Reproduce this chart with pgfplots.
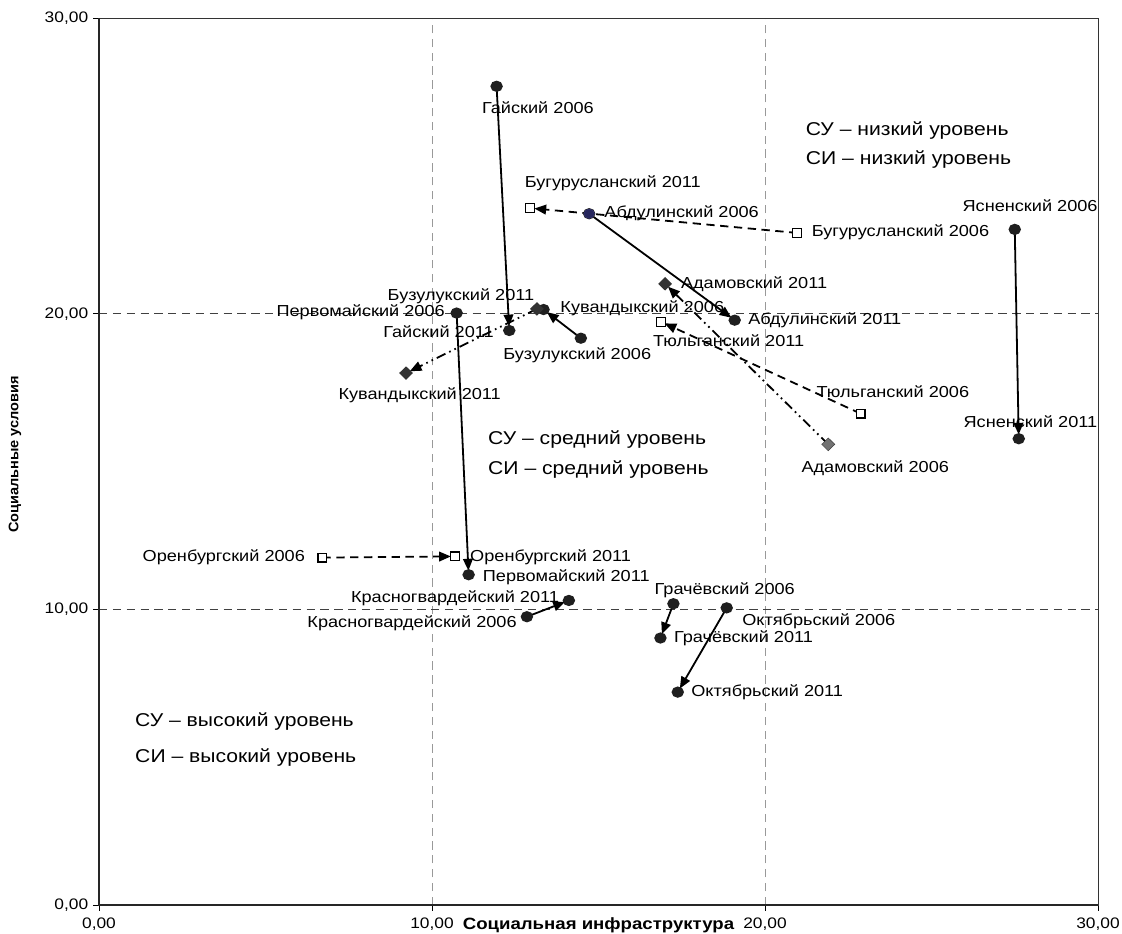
\documentclass[border=0pt]{standalone}
\usepackage{fontspec}
\setmainfont{Liberation Sans}[FakeStretch=1.14]
\newfontfamily\ylabfont{Liberation Sans}[FakeStretch=1.05]
\usepackage{pgfplots}
\pgfplotsset{compat=1.18}
\usetikzlibrary{arrows.meta}

\pgfplotsset{
  pair/.style={line width=1.3pt, black, -{Triangle[length=8.5pt,width=7pt]}, shorten >=3pt},
  circ/.style={pair, solid, mark=*, mark size=3.4pt,
    mark options={solid, xscale=1.12, fill=black!88, draw=black!88}},
  sq/.style={pair, dash pattern=on 6pt off 4pt, mark=square*, mark size=3.2pt,
    mark options={solid, fill=white, draw=black, line width=0.8pt}},
  dia/.style={pair, dash pattern=on 7pt off 3pt on 1.2pt off 3pt on 1.2pt off 3pt,
    mark=diamond*, mark size=4pt, mark options={solid, xscale=1.35, fill=black!80, draw=black!80}},
}
\tikzset{
  lbl/.style={inner sep=0pt, font=\fontsize{11.5}{13}\selectfont},
  zone/.style={inner sep=0pt, anchor=west, font=\fontsize{13.4}{16}\selectfont},
}

\begin{document}
\begin{tikzpicture}
\begin{axis}[
  name=ax,
  scale only axis,
  width=9.99in, height=8.87in,
  xmin=0, xmax=30, ymin=0, ymax=30,
  xtick={0,10,20,30}, ytick={0,10,20,30},
  xtick pos=bottom, ytick pos=left,
  tick align=outside,
  major tick length=4.3pt,
  tick style={black, line width=0.6pt},
  grid=major,
  x grid style={gray!80, dash pattern=on 6pt off 4pt, line width=0.5pt},
  y grid style={black!75, dash pattern=on 6pt off 4pt, line width=0.5pt},
  axis line style={black!80, line width=0.6pt},
  tick label style={font=\fontsize{11}{13}\selectfont},
  xticklabel style={yshift=-1.5pt},
  /pgf/number format/fixed,
  /pgf/number format/fixed zerofill,
  /pgf/number format/precision=2,
  /pgf/number format/use comma,
  /pgf/number format/assume math mode=true,
  xlabel={\bfseries Социальная инфраструктура},
  xlabel style={at={(axis description cs:0.5,0)}, anchor=north, yshift=-9pt,
    inner sep=0pt, font=\fontsize{11.8}{13}\selectfont},
  ylabel={\ylabfont\bfseries Социальные условия},
  ylabel style={at={(axis description cs:-0.084,0.508)}, anchor=center,
    font=\fontsize{10}{12}\selectfont},
]
% 2006 -> 2011
\addplot[circ] coordinates {(11.94,27.69) (12.32,19.43)}; % Гайский
\addplot[circ] coordinates {(14.72,23.38) (19.09,19.78)}; % Абдулинский
\addplot[circ] coordinates {(27.50,22.85) (27.62,15.77)}; % Ясненский
\addplot[circ] coordinates {(10.74,20.02) (11.10,11.17)}; % Первомайский
\addplot[circ] coordinates {(14.47,19.17) (13.35,20.14)}; % Бузулукский
\addplot[circ] coordinates {(12.85,9.75) (14.11,10.30)};  % Красногвардейский
\addplot[circ] coordinates {(17.25,10.19) (16.86,9.03)};  % Грачёвский
\addplot[circ] coordinates {(18.85,10.05) (17.38,7.20)};  % Октябрьский
\addplot[sq] coordinates {(20.97,22.73) (12.95,23.57)};   % Бугурусланский
\addplot[sq] coordinates {(22.87,16.62) (16.87,19.73)};   % Тюльганский
\addplot[sq] coordinates {(6.71,11.75) (10.69,11.79)};    % Оренбургский
\addplot[dia] coordinates {(21.90,15.58) (17.00,21.01)};  % Адамовский
\addplot[dia] coordinates {(13.15,20.16) (9.22,17.99)};   % Кувандыкский
\addplot[only marks, mark=diamond*, mark size=4pt, mark options={xscale=1.35},
  fill=black!55, draw=black!55] coordinates {(21.90,15.58)};
\addplot[only marks, mark=*, mark size=3.4pt, mark options={xscale=1.12},
  fill=blue!25!black!85, draw=blue!30!black!80] coordinates {(14.72,23.38)};

% point labels
\node[lbl] at (axis cs:13.18,26.98) {Гайский 2006};
\node[lbl, anchor=east] at (axis cs:11.86,19.40) {Гайский 2011};
\node[lbl] at (axis cs:15.43,24.40) {Бугурусланский 2011};
\node[lbl, anchor=west] at (axis cs:21.40,22.74) {Бугурусланский 2006};
\node[lbl, anchor=west] at (axis cs:15.17,23.38) {Абдулинский 2006};
\node[lbl, anchor=west] at (axis cs:19.49,19.79) {Абдулинский 2011};
\node[lbl, anchor=west] at (axis cs:17.47,21.01) {Адамовский 2011};
\node[lbl] at (axis cs:23.31,14.79) {Адамовский 2006};
\node[lbl, anchor=west] at (axis cs:16.63,19.09) {Тюльганский 2011};
\node[lbl] at (axis cs:23.84,17.37) {Тюльганский 2006};
\node[lbl] at (axis cs:27.96,23.64) {Ясненский 2006};
\node[lbl] at (axis cs:27.97,16.34) {Ясненский 2011};
\node[lbl, anchor=west] at (axis cs:13.85,20.19) {Кувандыкский 2006};
\node[lbl] at (axis cs:9.63,17.24) {Кувандыкский 2011};
\node[lbl] at (axis cs:10.87,20.59) {Бузулукский 2011};
\node[lbl] at (axis cs:14.36,18.58) {Бузулукский 2006};
\node[lbl, anchor=east] at (axis cs:10.39,20.05) {Первомайский 2006};
\node[lbl, anchor=west] at (axis cs:11.52,11.09) {Первомайский 2011};
\node[lbl, anchor=east] at (axis cs:6.19,11.75) {Оренбургский 2006};
\node[lbl, anchor=west] at (axis cs:11.14,11.77) {Оренбургский 2011};
\node[lbl, anchor=east] at (axis cs:13.82,10.36) {Красногвардейский 2011};
\node[lbl, anchor=east] at (axis cs:12.55,9.52) {Красногвардейский 2006};
\node[lbl] at (axis cs:18.79,10.64) {Грачёвский 2006};
\node[lbl, anchor=west] at (axis cs:17.26,9.03) {Грачёвский 2011};
\node[lbl, anchor=west] at (axis cs:19.31,9.60) {Октябрьский 2006};
\node[lbl, anchor=west] at (axis cs:17.78,7.18) {Октябрьский 2011};

% zones
\node[zone] at (axis cs:21.22,26.18) {СУ – низкий уровень};
\node[zone] at (axis cs:21.22,25.20) {СИ – низкий уровень};
\node[zone] at (axis cs:11.68,15.73) {СУ – средний уровень};
\node[zone] at (axis cs:11.68,14.74) {СИ – средний уровень};
\node[zone] at (axis cs:1.08,6.19) {СУ – высокий уровень};
\node[zone] at (axis cs:1.08,5.00) {СИ – высокий уровень};
\end{axis}
\draw[black!85, line width=1.4pt] (ax.north west) -- (ax.south west) -- (ax.south east);
\pgfresetboundingbox
\path ([xshift=-0.99in, yshift=-0.28in]ax.south west) rectangle ([xshift=0.24in, yshift=0.18in]ax.north east);
\end{tikzpicture}
\end{document}
